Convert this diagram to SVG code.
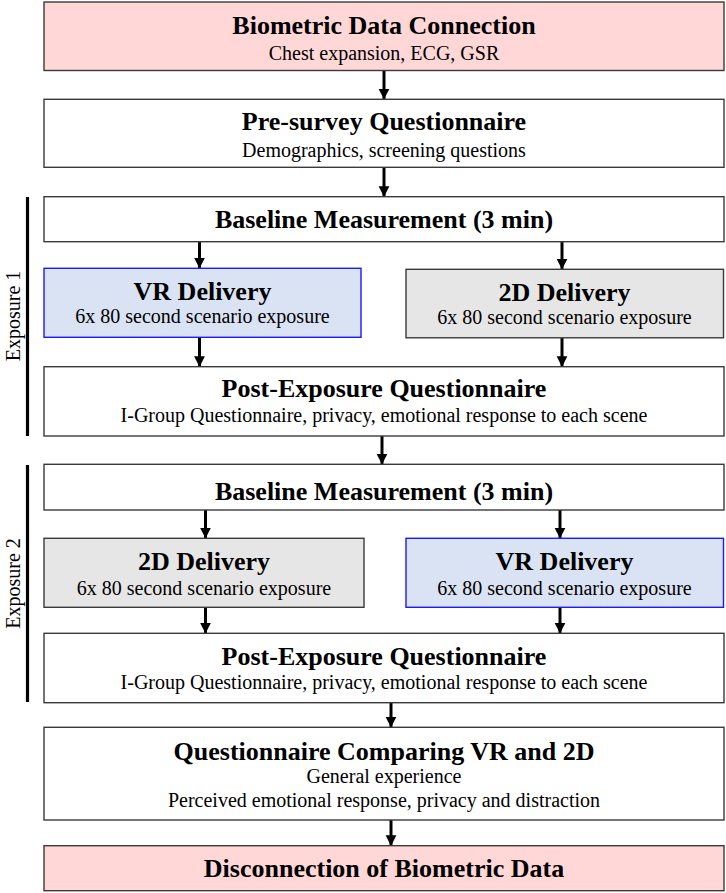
<svg xmlns="http://www.w3.org/2000/svg" width="726" height="893" viewBox="0 0 726 893">
<defs>
<style>
.box{stroke:#3a3a3a;stroke-width:1.4;fill:#fff}
.pink{fill:#ffd7d7}
.vr{fill:#dae3f3;stroke:#1a1aff}
.gray{fill:#e7e6e6}
.t{font-family:"Liberation Serif","Times New Roman",serif;font-weight:bold;font-size:26px;text-anchor:middle;fill:#000}
.s{font-family:"Liberation Serif","Times New Roman",serif;font-size:20px;text-anchor:middle;fill:#000}
.lab{font-family:"Liberation Serif","Times New Roman",serif;font-size:20px;text-anchor:middle;fill:#000}
.arr{stroke:#000;stroke-width:3;fill:none;marker-end:url(#ah)}
.bar{stroke:#000;stroke-width:3.2}
</style>
<marker id="ah" markerWidth="4" markerHeight="4" refX="3.4" refY="2" orient="auto" markerUnits="strokeWidth" viewBox="0 0 4 4">
<path d="M0,0.2 L3.6,2 L0,3.8 Z" fill="#000"/>
</marker>
</defs>

<g id="connectors">
<line class="arr" x1="384" y1="70.5" x2="384" y2="99"/>
<line class="arr" x1="384" y1="167.3" x2="384" y2="196.5"/>
<line class="arr" x1="199.5" y1="241.7" x2="199.5" y2="268"/>
<line class="arr" x1="562" y1="241.7" x2="562" y2="269"/>
<line class="arr" x1="199.5" y1="337.3" x2="199.5" y2="366.5"/>
<line class="arr" x1="562" y1="337.8" x2="562" y2="366.5"/>
<line class="arr" x1="382" y1="436" x2="382" y2="464"/>
<line class="arr" x1="205.5" y1="510" x2="205.5" y2="538"/>
<line class="arr" x1="560" y1="510" x2="560" y2="538"/>
<line class="arr" x1="205.5" y1="607.3" x2="205.5" y2="633"/>
<line class="arr" x1="560" y1="607.3" x2="560" y2="633"/>
<line class="arr" x1="391" y1="702.7" x2="391" y2="727"/>
<line class="arr" x1="391" y1="820" x2="391" y2="845.5"/>
</g>

<g id="exposure1">
<line class="bar" x1="27.5" y1="197" x2="27.5" y2="436"/>
<text class="lab" transform="translate(19.5,316) rotate(-90)">Exposure 1</text>
</g>
<g id="exposure2">
<line class="bar" x1="27.5" y1="465" x2="27.5" y2="702"/>
<text class="lab" transform="translate(19.5,583.5) rotate(-90)">Exposure 2</text>
</g>

<g id="biometric-connection">
<rect class="box pink" x="44" y="2" width="680" height="68.5"/>
<text class="t" x="384" y="34.3">Biometric Data Connection</text>
<text class="s" x="384" y="60">Chest expansion, ECG, GSR</text>
</g>

<g id="pre-survey">
<rect class="box" x="44" y="99.3" width="680" height="68"/>
<text class="t" x="384" y="130">Pre-survey Questionnaire</text>
<text class="s" x="384" y="156.7">Demographics, screening questions</text>
</g>

<g id="baseline1">
<rect class="box" x="44" y="196.7" width="680" height="45"/>
<text class="t" x="384" y="228.3">Baseline Measurement (3 min)</text>
</g>

<g id="vr1">
<rect class="box vr" x="44" y="268.3" width="317" height="69"/>
<text class="t" x="202.5" y="300">VR Delivery</text>
<text class="s" x="202.5" y="323.3">6x 80 second scenario exposure</text>
</g>

<g id="twod1">
<rect class="box gray" x="406" y="269.3" width="317.5" height="68.5"/>
<text class="t" x="564.5" y="300.5">2D Delivery</text>
<text class="s" x="564.5" y="323.8">6x 80 second scenario exposure</text>
</g>

<g id="post1">
<rect class="box" x="44" y="366.7" width="680" height="69.3"/>
<text class="t" x="384" y="396.7">Post-Exposure Questionnaire</text>
<text class="s" x="384" y="421.7">I-Group Questionnaire, privacy, emotional response to each scene</text>
</g>

<g id="baseline2">
<rect class="box" x="44" y="464.3" width="680" height="45.7"/>
<text class="t" x="384" y="500">Baseline Measurement (3 min)</text>
</g>

<g id="twod2">
<rect class="box gray" x="44" y="538.3" width="320" height="69"/>
<text class="t" x="204" y="570">2D Delivery</text>
<text class="s" x="204" y="595">6x 80 second scenario exposure</text>
</g>

<g id="vr2">
<rect class="box vr" x="406" y="538.3" width="317.5" height="69"/>
<text class="t" x="564.5" y="570">VR Delivery</text>
<text class="s" x="564.5" y="595">6x 80 second scenario exposure</text>
</g>

<g id="post2">
<rect class="box" x="44" y="633.3" width="680" height="69.4"/>
<text class="t" x="384" y="665">Post-Exposure Questionnaire</text>
<text class="s" x="384" y="688.5">I-Group Questionnaire, privacy, emotional response to each scene</text>
</g>

<g id="compare">
<rect class="box" x="44" y="727.3" width="680" height="92.7"/>
<text class="t" x="384" y="760">Questionnaire Comparing VR and 2D</text>
<text class="s" x="384" y="783.3">General experience</text>
<text class="s" x="384" y="806.7">Perceived emotional response, privacy and distraction</text>
</g>

<g id="disconnection">
<rect class="box pink" x="44" y="845.7" width="680" height="45"/>
<text class="t" x="384" y="876.7">Disconnection of Biometric Data</text>
</g>
</svg>
